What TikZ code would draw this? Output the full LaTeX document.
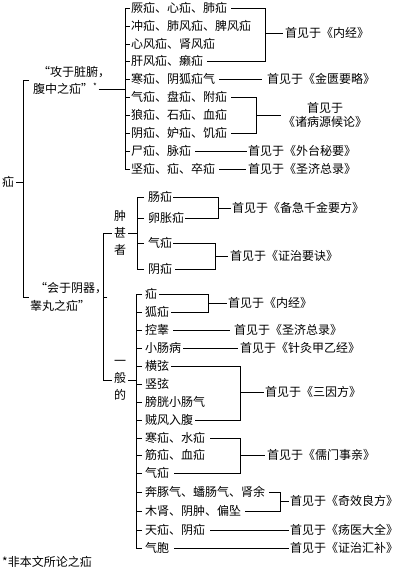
\documentclass[tikz,border=0pt]{standalone}
\usepackage{fontspec}
\setmainfont{Noto Sans CJK SC}
\tikzset{
  txt/.style={anchor=west, inner sep=0pt, font=\fontsize{12}{14}\selectfont},
  vtxt/.style={inner sep=0pt, align=center, font=\fontsize{12}{17}\selectfont},
  ln/.style={line width=0.7pt, black}
}
\begin{document}
\begin{tikzpicture}[x=1pt,y=-1pt]
\useasboundingbox (0,0) rectangle (404,568);
% ---------- root and labels
\node[txt] (root) at (2,182) {疝};
\node[txt] (l1) at (38,72) {“攻于脏腑，};
\node[txt] (l2) at (33,89) {腹中之疝”\textsuperscript{*}};
\node[txt] (l3) at (35,288) {“会于阴器，};
\node[txt] (l4) at (30,306) {睾丸之疝”};
\coordinate (rv) at (23,0);
\coordinate (rt) at (29,80);
\coordinate (rb) at (29,297);
\draw[ln] (root.east) ++(2,0) -- (root.east -| rv);
\draw[ln] (rt) -- (rt -| rv) -- (rb -| rv) -- (rb);
% ---------- top group
\coordinate (tv) at (125,0);
\node[txt] (a1) at (131,8) {厥疝、心疝、肺疝};
\node[txt] (a2) at (131,26) {冲疝、肺风疝、脾风疝};
\node[txt] (a3) at (131,44) {心风疝、肾风疝};
\node[txt] (a4) at (131,61) {肝风疝、癞疝};
\node[txt] (a5) at (131,79) {寒疝、阴狐疝气};
\node[txt] (a6) at (131,97) {气疝、盘疝、附疝};
\node[txt] (a7) at (131,115) {狼疝、石疝、血疝};
\node[txt] (a8) at (131,133) {阴疝、妒疝、饥疝};
\node[txt] (a9) at (131,151) {尸疝、脉疝};
\node[txt] (a10) at (131,169) {坚疝、疝、卒疝};
\draw[ln] ([xshift=1pt]l2.east) -- (l2.east -| tv);
\draw[ln] (a1.west -| tv) -- (a10.west -| tv);
\foreach \i in {1,...,10} { \draw[ln] ([xshift=-1.5pt]a\i.west) -- (a\i.west -| tv); }
% sources top
\node[txt] (s1) at (285,33) {首见于《内经》};
\node[txt] (s2) at (267,79) {首见于《金匮要略》};
\node[txt, align=center, anchor=west] (s3) at (283,115) {首见于\\《诸病源候论》};
\node[txt] (s4) at (248,151) {首见于《外台秘要》};
\node[txt] (s5) at (248,169) {首见于《圣济总录》};
\coordinate (g1) at (265,0);
\coordinate (g3) at (256,0);
\draw[ln] ([xshift=4pt]a1.east) -- (a1.east -| g1) |- ([xshift=4pt]a4.east);
\draw[ln] (s1.west -| g1) -- ([xshift=-2pt]s1.west);
\draw[ln] ([xshift=4pt]a5.east) -- ([xshift=-5pt]s2.west);
\draw[ln] ([xshift=4pt]a6.east) -- (a6.east -| g3) |- ([xshift=4pt]a8.east);
\draw[ln] (s3.west -| g3) -- ([xshift=-2pt]s3.west);
\draw[ln] ([xshift=4pt]a9.east) -- ([xshift=-1pt]s4.west);
\draw[ln] ([xshift=4pt]a10.east) -- ([xshift=-2pt]s5.west);
% ---------- lower group
\coordinate (vb) at (103,0);
\coordinate (m2) at (103,297);
\node[vtxt] (zhong) at (120,233) {肿\\甚\\者};
\node[vtxt] (yiban) at (120,380) {一\\般\\的};
\draw[ln] (l3.east |- m2) -- (m2);
\draw[ln] ([xshift=-2pt]zhong.west) -- (zhong.west -| vb) -- (yiban.west -| vb) -- ([xshift=-2pt]yiban.west);
% zhong sub
\coordinate (zv) at (137,0);
\node[txt] (b1) at (148,197) {肠疝};
\node[txt] (b2) at (148,218) {卵胀疝};
\node[txt] (b3) at (148,243) {气疝};
\node[txt] (b4) at (148,269) {阴疝};
\draw[ln] ([xshift=2pt]zhong.east) -- (zhong.east -| zv);
\draw[ln] (b1.west -| zv) -- (b4.west -| zv);
\foreach \i in {1,...,4} { \draw[ln] ([xshift=-4pt]b\i.west) -- (b\i.west -| zv); }
\node[txt] (s6) at (232,208) {首见于《备急千金要方》};
\node[txt] (s7) at (230,256) {首见于《证治要诀》};
\coordinate (g6) at (218,0);
\coordinate (g7) at (215,0);
\draw[ln] ([xshift=1pt]b1.east) -- (b1.east -| g6) |- ([xshift=1pt]b2.east);
\draw[ln] (s6.west -| g6) -- ([xshift=-1pt]s6.west);
\draw[ln] ([xshift=1pt]b3.east) -- (b3.east -| g7) |- ([xshift=3pt]b4.east);
\draw[ln] (s7.west -| g7) -- ([xshift=-2pt]s7.west);
% yiban sub
\coordinate (yv) at (136,0);
\node[txt] (c1) at (145,294) {疝};
\node[txt] (c2) at (145,312) {狐疝};
\node[txt] (c3) at (145,330) {控睾};
\node[txt] (c4) at (145,348) {小肠病};
\node[txt] (c5) at (145,366) {横弦};
\node[txt] (c6) at (145,384) {竖弦};
\node[txt] (c7) at (145,402) {膀胱小肠气};
\node[txt] (c8) at (145,420) {贼风入腹};
\node[txt] (c9) at (145,438) {寒疝、水疝};
\node[txt] (c10) at (145,455) {筋疝、血疝};
\node[txt] (c11) at (145,473) {气疝};
\node[txt] (c12) at (145,492) {奔豚气、蟠肠气、肾余};
\node[txt] (c13) at (145,511) {木肾、阴肿、偏坠};
\node[txt] (c14) at (145,530) {天疝、阴疝};
\node[txt] (c15) at (145,548) {气胞};
\draw[ln] ([xshift=2pt]yiban.east) -- (yiban.east -| yv);
\draw[ln] (c1.west -| yv) -- (c15.west -| yv);
\foreach \i in {1,...,15} { \draw[ln] ([xshift=-3pt]c\i.west) -- (c\i.west -| yv); }
\node[txt] (s8) at (228,303) {首见于《内经》};
\node[txt] (s9) at (234,330) {首见于《圣济总录》};
\node[txt] (s10) at (240,348) {首见于《针灸甲乙经》};
\node[txt] (s11) at (265,392) {首见于《三因方》};
\node[txt] (s12) at (267,455) {首见于《儒门事亲》};
\node[txt] (s13) at (290,501) {首见于《奇效良方》};
\node[txt] (s14) at (290,530) {首见于《疡医大全》};
\node[txt] (s15) at (290,548) {首见于《证治汇补》};
\coordinate (g8) at (208,0);
\coordinate (g11) at (240,0);
\coordinate (g13) at (280,0);
\draw[ln] ([xshift=2pt]c1.east) -- (c1.east -| g8) |- ([xshift=2pt]c2.east);
\draw[ln] (s8.west -| g8) -- ([xshift=-1pt]s8.west);
\draw[ln] ([xshift=4pt]c3.east) -- ([xshift=-4pt]s9.west);
\draw[ln] ([xshift=2pt]c4.east) -- ([xshift=-2pt]s10.west);
\draw[ln] ([xshift=2pt]c5.east) -- (c5.east -| g11) |- ([xshift=2pt]c8.east);
\draw[ln] (s11.west -| g11) -- ([xshift=-1pt]s11.west);
\draw[ln] ([xshift=5pt]c9.east) -- (c9.east -| g11) |- ([xshift=5pt]c11.east);
\draw[ln] (s12.west -| g11) -- ([xshift=-2pt]s12.west);
\draw[ln] ([xshift=4pt]c12.east) -- (c12.east -| g13) |- ([xshift=4pt]c13.east);
\draw[ln] (s13.west -| g13) -- ([xshift=-1pt]s13.west);
\draw[ln] ([xshift=5pt]c14.east) -- ([xshift=-1pt]s14.west);
\draw[ln] ([xshift=5pt]c15.east) -- ([xshift=-1pt]s15.west);
% footnote
\node[txt] (fn) at (2,562) {*非本文所论之疝};
\end{tikzpicture}
\end{document}
